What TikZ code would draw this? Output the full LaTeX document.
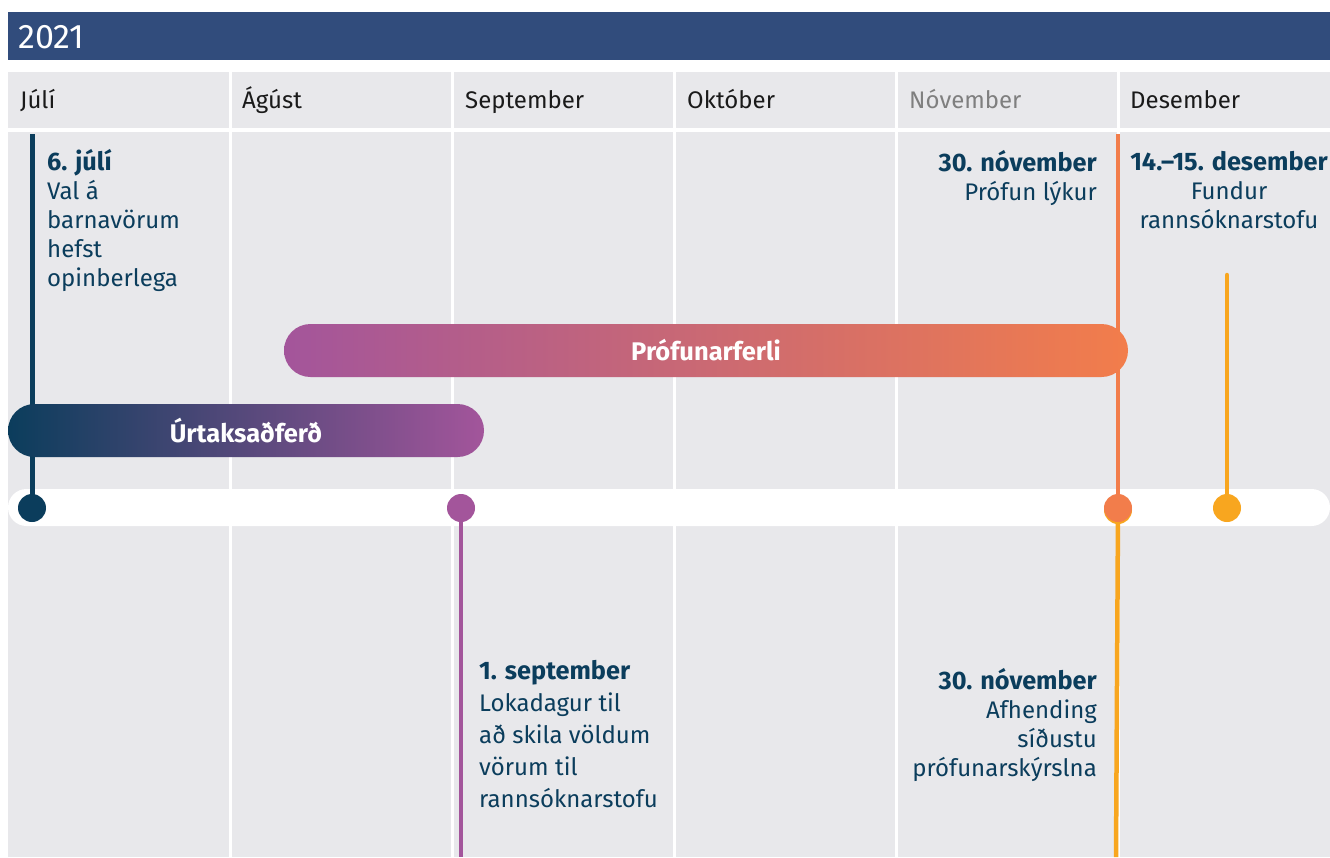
\documentclass[tikz,border=0pt]{standalone}
\usepackage{fontspec}
\setmainfont{Fira Sans}
\definecolor{hdr}{HTML}{314C7C}
\definecolor{cellgrey}{HTML}{E8E8EB}
\definecolor{navy}{HTML}{0B3D5C}
\definecolor{purp}{HTML}{A3559B}
\definecolor{orng}{HTML}{F27D4B}
\definecolor{yell}{HTML}{F8A61F}
\definecolor{monthtxt}{HTML}{1A1A1A}
\definecolor{monthgrey}{HTML}{7F7F7F}
\pgfdeclarelayer{back}
\pgfdeclarelayer{lines}
\pgfsetlayers{back,lines,main}
\newcommand\evtitle[1]{{\fontsize{25.3}{29}\selectfont\bfseries #1}}
\begin{document}
\begin{tikzpicture}[x=1pt,y=-1pt,
  month/.style={anchor=base west, inner sep=0, text=monthtxt, font=\fontsize{24}{28}\selectfont},
  evtxt/.style={inner sep=0, text=navy, font=\fontsize{24}{29}\selectfont},
  evtxtwide/.style={inner sep=0, text=navy, font=\fontsize{24}{32}\selectfont},
  bar/.style={rounded corners=26.5pt, minimum height=53pt, inner sep=0, text=white, font=\fontsize{25.5}{29}\selectfont\bfseries},
  dot/.style={circle, minimum size=28pt, inner sep=0},
  evline/.style={line width=4.5pt},
  sep/.style={white, line width=3pt}
]
\useasboundingbox (0,0) rectangle (1330,857);
\begin{pgfonlayer}{back}
% header
\fill[hdr] (8,12) rectangle (1330,60);
% month row and body
\fill[cellgrey] (8,72) rectangle (1330,128);
\fill[cellgrey] (8,132) rectangle (1330,857);
\foreach \x in {230.5,452.5,674.5,896.5,1118.5} \draw[sep] (\x,72) -- (\x,857);
% timeline band
\fill[white, rounded corners=18.5pt] (8,489) rectangle (1330,526);
\end{pgfonlayer}
\node[anchor=base west, inner sep=0, text=white, font=\fontsize{34}{38}\selectfont] (year) at (18,48) {2021};
\node[month] (m1) at (20,108) {Júlí};
\node[month] (m2) at (242,108) {Ágúst};
\node[month] (m3) at (465,108) {September};
\node[month] (m4) at (687,108) {Október};
\node[month, text=monthgrey] (m5) at (909,108) {Nóvember};
\node[month] (m6) at (1130,108) {Desember};
% bars
\node[bar, left color=purp, right color=orng, minimum width=844pt] (pf) at (706,350.5) {Prófunarferli};
\node[bar, left color=navy, right color=purp, minimum width=476pt] (ur) at (246,430.5) {Úrtaksaðferð};
% dots
\node[dot, fill=navy] (d1) at (32,508) {};
\node[dot, fill=purp] (d2) at (461,508) {};
\node[dot, fill=yell] (d3b) at (1118,510) {};
\node[dot, fill=orng] (d3) at (1118,508) {};
\node[dot, fill=yell] (d4) at (1227,508) {};
% connector ends
\coordinate (t1) at (32,134);
\coordinate (b2) at (461,857);
\coordinate (t3) at (1118,134);
\coordinate (b3) at (1116,857);
\coordinate (t4) at (1227,275);
\begin{pgfonlayer}{lines}
\draw[evline, navy, line width=5pt] (t1) -- (d1.center);
\draw[evline, purp] (d2.center) -- (b2);
\draw[evline, orng] (t3) -- (d3.center);
\draw[evline, yell] (d3b.center) -- (b3);
\draw[evline, yell, line cap=round] (t4) -- (d4.center);
\end{pgfonlayer}
% event texts
\node[evtxt, anchor=north west, align=left] (e1) at (47,148.7) {\strut\evtitle{6. júlí}\\Val á\\barnavörum\\hefst\\opinberlega};
\node[evtxt, anchor=north east, align=right] (e3) at (1097,149.7) {\strut\evtitle{30. nóvember}\\Prófun lýkur};
\node[evtxt, anchor=north, align=center] (e4) at (1229,149.7) {\strut\evtitle{14.–15. desember}\\Fundur\\rannsóknarstofu};
\node[evtxtwide, anchor=north west, align=left] (e2) at (479,656.6) {\strut\evtitle{1. september}\\Lokadagur til\\að skila völdum\\vörum til\\rannsóknarstofu};
\node[evtxt, anchor=north east, align=right] (e5) at (1097,667.7) {\strut\evtitle{30. nóvember}\\Afhending\\síðustu\\prófunarskýrslna};
\end{tikzpicture}
\end{document}
